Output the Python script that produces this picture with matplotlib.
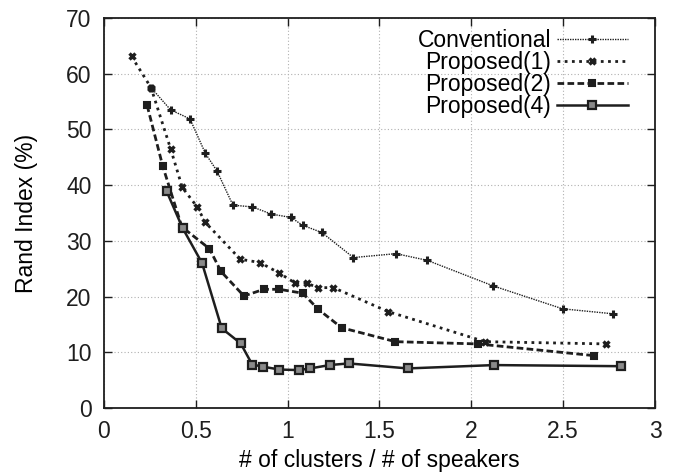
import matplotlib
import numpy as np

matplotlib.use("Agg")
import matplotlib.pyplot as plt

plt.rcParams.update(
    {
        "font.family": "Liberation Sans",
        "font.size": 16.5,
        "xtick.direction": "in",
        "ytick.direction": "in",
        "xtick.top": True,
        "ytick.right": True,
    }
)

# ---- data ----
conv_x = [0.256, 0.363, 0.468, 0.552, 0.616, 0.702, 0.807, 0.912, 1.018, 1.081, 1.186,
          1.358, 1.590, 1.760, 2.120, 2.497, 2.773]
conv_y = [57.5, 53.5, 51.9, 45.7, 42.5, 36.4, 36.1, 34.8, 34.2, 32.8, 31.5,
          27.0, 27.7, 26.5, 21.9, 17.8, 16.9]

p1_x = [0.150, 0.256, 0.363, 0.426, 0.507, 0.552, 0.742, 0.850, 0.955, 1.042, 1.103,
        1.166, 1.249, 1.547, 2.075, 2.734]
p1_y = [63.1, 57.5, 46.5, 39.6, 36.1, 33.3, 26.7, 26.1, 24.2, 22.4, 22.4,
        21.6, 21.6, 17.3, 11.9, 11.5]

p2_x = [0.235, 0.320, 0.424, 0.574, 0.637, 0.762, 0.870, 0.955, 1.082, 1.167, 1.294,
        1.587, 2.035, 2.667]
p2_y = [54.3, 43.4, 32.5, 28.6, 24.5, 20.1, 21.3, 21.3, 20.6, 17.7, 14.4,
        11.9, 11.5, 9.4]

p4_x = [0.341, 0.428, 0.534, 0.641, 0.744, 0.807, 0.868, 0.955, 1.060, 1.123, 1.228,
        1.332, 1.654, 2.123, 2.815]
p4_y = [38.9, 32.3, 26.0, 14.3, 11.6, 7.8, 7.4, 6.9, 6.8, 7.1, 7.7,
        8.0, 7.1, 7.7, 7.5]

labels = ["Conventional", "Proposed(1)", "Proposed(2)", "Proposed(4)"]

C = "#1e1e1e"

fig = plt.figure(figsize=(6.77, 4.76), dpi=100)
ax = fig.add_axes([0.1536, 0.1429, 0.8139, 0.8193])

ax.plot(conv_x, conv_y, color=C, lw=1.0, ls=(0, (1, 0.8)), marker="+", ms=5.5, mew=2.2,
        label=labels[0])
ax.plot(p1_x, p1_y, color=C, lw=2.0, ls=(0, (1, 1.6)), marker="x", ms=5, mew=2.4,
        label=labels[1])
ax.plot(p2_x, p2_y, color=C, lw=2.0, ls=(0, (2.4, 1.2)), marker="s", ms=4.5, mew=1.5,
        mfc=C, label=labels[2])
ax.plot(p4_x, p4_y, color=C, lw=1.8, ls="-", marker="s", ms=5.5, mew=1.6,
        mfc="#8a8a8a", label=labels[3])

ax.set_xlim(0, 3)
ax.set_ylim(0, 70)
ax.set_xticks(np.arange(0, 3.01, 0.5))
ax.set_xticklabels(["0", "0.5", "1", "1.5", "2", "2.5", "3"])
ax.set_yticks(np.arange(0, 71, 10))
ax.grid(True, color="#b0b0b0", lw=0.8, ls=(0, (1, 2)))
ax.tick_params(length=6, width=1.0, pad=9, colors="#1e1e1e")
for s in ax.spines.values():
    s.set_linewidth(1.3)
    s.set_color("#1e1e1e")

ax.set_xlabel("# of clusters / # of speakers", labelpad=4)
ax.set_ylabel("Rand Index (%)", labelpad=20)

ax.legend(loc="upper right", bbox_to_anchor=(0.951, 0.972), frameon=False,
          markerfirst=False, handlelength=3.1, labelspacing=-0.04, handletextpad=0.25,
          borderaxespad=0, borderpad=0)

fig.savefig("out.png", dpi=100)
